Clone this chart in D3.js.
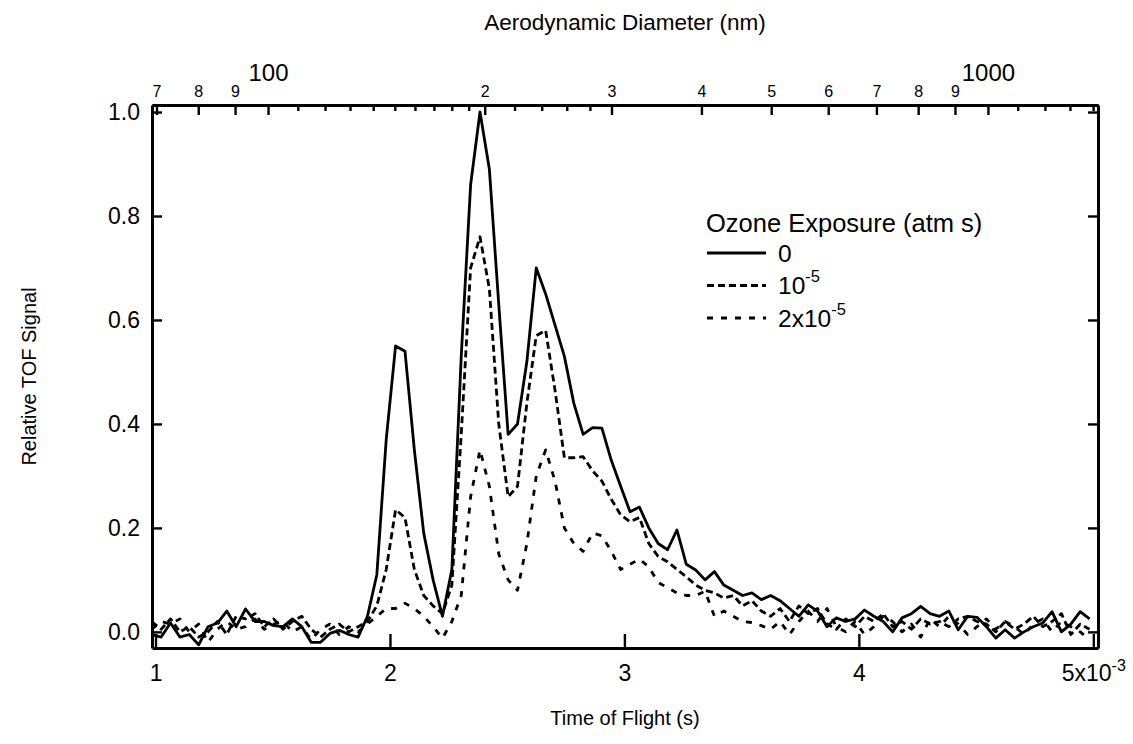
<!DOCTYPE html>
<html>
<head>
<meta charset="utf-8">
<script src="https://cdn.jsdelivr.net/npm/d3@7"></script>
<style>
  body { margin: 0; background: #fff; }
  text { font-family: Arial, "Liberation Sans", sans-serif; fill: #000; }
</style>
</head>
<body>
<svg id="chart" width="1133" height="744"></svg>
<script>
// time of flight sample grid (ms)
const tof = [0.984,1.024,1.064,1.104,1.144,1.184,1.224,1.264,1.304,1.344,
  1.384,1.424,1.464,1.504,1.544,1.584,1.624,1.664,1.704,1.744,
  1.784,1.824,1.864,1.904,1.944,1.984,2.024,2.064,2.104,2.144,
  2.184,2.224,2.264,2.304,2.344,2.384,2.424,2.464,2.504,2.544,
  2.584,2.624,2.664,2.704,2.744,2.784,2.824,2.864,2.904,2.944,
  2.984,3.024,3.064,3.104,3.144,3.184,3.224,3.264,3.304,3.344,
  3.384,3.424,3.464,3.504,3.544,3.584,3.624,3.664,3.704,3.744,
  3.784,3.824,3.864,3.904,3.944,3.984,4.024,4.064,4.104,4.144,
  4.184,4.224,4.264,4.304,4.344,4.384,4.424,4.464,4.504,4.544,
  4.584,4.624,4.664,4.704,4.744,4.784,4.824,4.864,4.904,4.944,4.984]

// relative signal, ozone exposure 0
const exposure0 = [-0.005,-0.01,0.017,-0.01,-0.005,-0.025,0.01,0.017,0.04,0.01,
  0.044,0.02,0.02,0.012,0.01,0.025,0.01,-0.02,-0.02,-0.003,
  0.003,-0.005,-0.01,0.03,0.11,0.37,0.55,0.54,0.35,0.19,
  0.10,0.03,0.12,0.53,0.86,1.0,0.89,0.63,0.38,0.40,
  0.52,0.70,0.65,0.59,0.53,0.44,0.38,0.393,0.392,0.33,
  0.28,0.231,0.24,0.20,0.17,0.158,0.196,0.13,0.119,0.10,
  0.116,0.09,0.08,0.07,0.075,0.062,0.07,0.06,0.045,0.03,
  0.052,0.04,0.01,0.027,0.02,0.025,0.042,0.03,0.02,0.0,
  0.027,0.035,0.049,0.035,0.03,0.04,0.004,0.03,0.028,0.01,
  -0.012,0.004,-0.012,0.0,0.01,0.017,0.039,0.0,0.015,0.039,0.025]

// ozone exposure 1e-5
const exposure1 = [0.02,0.005,0.025,0.0,0.01,-0.01,0.0,0.02,-0.005,0.03,
  0.025,0.035,0.01,0.025,0.005,0.02,0.03,0.005,-0.01,0.005,
  0.015,0.0,0.01,0.02,0.05,0.12,0.235,0.22,0.12,0.07,
  0.05,0.035,0.09,0.38,0.70,0.76,0.66,0.40,0.26,0.28,
  0.44,0.57,0.58,0.465,0.335,0.335,0.337,0.31,0.29,0.255,
  0.225,0.212,0.22,0.17,0.145,0.135,0.12,0.106,0.09,0.08,
  0.075,0.065,0.07,0.05,0.06,0.04,0.03,0.045,0.02,0.05,
  0.035,0.045,0.015,0.005,0.025,0.01,0.03,0.02,0.035,0.01,
  0.02,0.005,0.025,0.015,0.02,0.01,0.025,0.03,0.02,0.015,
  0.0,0.02,0.005,0.015,0.03,0.01,0.02,0.035,-0.005,0.015,0.005]

// ozone exposure 2e-5
const exposure2 = [0.005,0.02,0.015,0.025,0.0,0.015,-0.02,0.005,0.02,0.005,
  0.01,0.025,0.005,0.015,0.02,0.0,0.01,-0.015,0.005,0.015,
  -0.005,0.01,0.0,0.015,0.03,0.045,0.045,0.055,0.045,0.03,
  0.01,-0.012,0.02,0.07,0.26,0.35,0.28,0.15,0.10,0.08,
  0.17,0.30,0.35,0.29,0.20,0.17,0.155,0.19,0.185,0.155,
  0.12,0.13,0.14,0.125,0.095,0.085,0.075,0.07,0.07,0.078,
  0.03,0.04,0.03,0.02,0.018,0.012,0.005,0.02,-0.005,0.02,
  0.04,0.02,0.045,0.01,0.0,0.02,-0.005,0.01,0.03,0.02,
  0.0,0.015,-0.01,0.025,0.01,0.03,0.015,-0.005,0.01,0.025,
  0.005,0.02,0.01,-0.005,0.015,0.025,0.0,0.02,0.01,0.0,-0.015]

const seriesLabels = [['0', null], ['10', '-5'], ['2x10', '-5']]
const yTicks = [0, 0.2, 0.4, 0.6, 0.8, 1.0]
const xTicks = [1, 2, 3, 4, 5]
const diamLabelled = [70, 80, 90, 100, 200, 300, 400, 500, 600, 700, 800, 900, 1000]
const diamSub = [110, 120, 130, 140, 150, 160, 170, 180, 190, 220, 240, 260, 280, 1100, 1200, 1300, 1400]

const svg = d3.select('#chart')
const L = 152, R = 1098, T = 105, B = 648

const x = d3.scaleLinear().domain([0.985, 5.02]).range([L, R])
const y = d3.scaleLinear().domain([-0.031, 1.0135]).range([B, T])
const dia = d3.scaleLog().domain([69.0, 1422]).range([L, R])

// clip for the traces
svg.append('clipPath').attr('id', 'clip')
  .append('rect').attr('x', L).attr('y', T).attr('width', R - L).attr('height', B - T)

const line = vals => d3.line()
  .x((d, i) => x(tof[i]))
  .y(d => y(d))(vals)

const traces = svg.append('g').attr('clip-path', 'url(#clip)')
const dashes = [null, '7,4', '6,8']
;[exposure0, exposure1, exposure2].forEach((vals, i) => {
  traces.append('path')
    .attr('d', line(vals))
    .attr('fill', 'none')
    .attr('stroke', '#000')
    .attr('stroke-width', 2.8)
    .attr('stroke-linejoin', 'round')
    .attr('stroke-dasharray', dashes[i])
})

function styleAxis(g){
  g.select('.domain').attr('stroke-width', 3)
  g.selectAll('.tick line').attr('stroke-width', 2.4)
  g.selectAll('.tick text').attr('font-family', 'Arial, "Liberation Sans", sans-serif')
}

// left
svg.append('g').attr('transform', `translate(${L},0)`)
  .call(d3.axisLeft(y).tickValues(yTicks).tickFormat(d3.format('.1f'))
    .tickSize(-10).tickSizeOuter(0).tickPadding(12))
  .call(styleAxis)
  .selectAll('.tick text').attr('font-size', 23)

// right
svg.append('g').attr('transform', `translate(${R},0)`)
  .call(d3.axisRight(y).tickValues(yTicks).tickFormat('')
    .tickSize(-10).tickSizeOuter(0))
  .call(styleAxis)

// bottom
const bottomAxis = svg.append('g').attr('transform', `translate(0,${B})`)
  .call(d3.axisBottom(x).tickValues(xTicks).tickFormat(d3.format('d'))
    .tickSize(-14).tickSizeOuter(0).tickPadding(17))
  .call(styleAxis)
bottomAxis.selectAll('.tick text').attr('font-size', 23)
bottomAxis.selectAll('.tick text').filter(d => d === 5).each(function(){
  const t = d3.select(this).text('')
  t.append('tspan').text('5x10')
  t.append('tspan').attr('dy', -10).attr('font-size', 16).text('-3')
})

// top: diameter
svg.append('g').attr('transform', `translate(0,${T})`)
  .call(d3.axisTop(dia).tickValues(diamSub).tickFormat('')
    .tickSize(-6).tickSizeOuter(0))
  .call(styleAxis)
const topAxis = svg.append('g').attr('transform', `translate(0,${T})`)
  .call(d3.axisTop(dia).tickValues(diamLabelled)
    .tickFormat(d => (d === 100 || d === 1000) ? String(d) : String(d / Math.pow(10, Math.floor(Math.log10(d) + 1e-9))))
    .tickSize(-10).tickSizeOuter(0).tickPadding(8))
  .call(styleAxis)
topAxis.selectAll('.tick text').attr('font-size', 16)
topAxis.selectAll('.tick text').filter(d => d === 100 || d === 1000)
  .attr('font-size', 24).attr('y', -24)

// titles
svg.append('text').attr('x', (L + R) / 2).attr('y', 30)
  .attr('text-anchor', 'middle').attr('font-size', 22.5).text('Aerodynamic Diameter (nm)')
svg.append('text').attr('x', (L + R) / 2).attr('y', 725)
  .attr('text-anchor', 'middle').attr('font-size', 20).text('Time of Flight (s)')
svg.append('text').attr('transform', `translate(36,${(T + B) / 2}) rotate(-90)`)
  .attr('text-anchor', 'middle').attr('font-size', 20).text('Relative TOF Signal')

// legend
const lg = svg.append('g').attr('transform', 'translate(706,0)')
lg.append('text').attr('x', 0).attr('y', 232).attr('font-size', 25.5).text('Ozone Exposure (atm s)')
seriesLabels.forEach((lab, i) => {
  const ly = 253 + i * 32.5
  lg.append('line').attr('x1', 1).attr('x2', 60).attr('y1', ly).attr('y2', ly)
    .attr('stroke', '#000').attr('stroke-width', 2.8).attr('stroke-dasharray', dashes[i])
  const t = lg.append('text').attr('x', 72).attr('y', ly + 8.5).attr('font-size', 24.5)
  t.append('tspan').text(lab[0])
  if (lab[1]) t.append('tspan').attr('dy', -12).attr('font-size', 16.5).text(lab[1])
})
</script>
</body>
</html>
